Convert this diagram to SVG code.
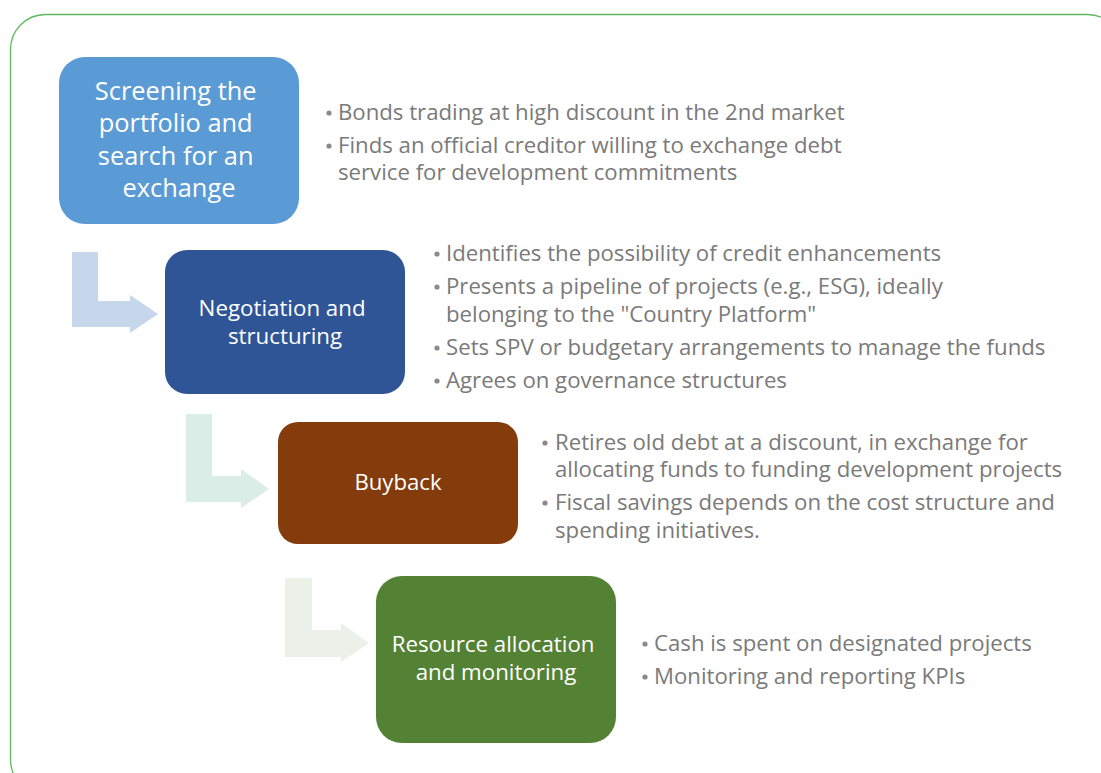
<svg xmlns="http://www.w3.org/2000/svg" width="1101" height="773" viewBox="0 0 1101 773">
  <style>
    text { font-variant-ligatures: none; }
    .box-label { font-family: "Open Sans", "Noto Sans", "Liberation Sans", sans-serif; fill: #ffffff; text-anchor: middle; }
    .bullets { font-family: "Open Sans", "Noto Sans", "Liberation Sans", sans-serif; font-size: 22.2px; fill: #7a7a7a; }
    .dot { fill: #8a8a8a; }
  </style>

  <rect width="1101" height="773" fill="#ffffff"/>

  <!-- outer frame -->
  <rect x="10.5" y="14.5" width="1112" height="780" rx="35" ry="35" fill="none" stroke="#5dba5f" stroke-width="1.3"/>

  <!-- bent arrows between the steps -->
  <g id="connectors">
    <path d="M72,252 L98,252 L98,301 L130,301 L130,295 L158,314 L130,333 L130,327 L72,327 Z" fill="#c6d6eb"/>
    <path d="M186,414 L212,414 L212,476 L241,476 L241,469 L269,489 L241,508 L241,502 L186,502 Z" fill="#daeee7"/>
    <path d="M285,578 L312,578 L312,630 L341,630 L341,623 L369,643 L341,662 L341,657 L285,657 Z" fill="#ebf1e9"/>
  </g>

  <!-- step 1 -->
  <g id="step-screening">
    <rect x="59" y="57" width="240" height="167" rx="26" fill="#5b9bd5"/>
    <text class="box-label" font-size="25.4">
      <tspan x="179" y="100">Screening the</tspan>
      <tspan x="179" y="132">portfolio and</tspan>
      <tspan x="179" y="165">search for an</tspan>
      <tspan x="179" y="197">exchange</tspan>
    </text>
  </g>
  <g id="notes-screening">
    <circle class="dot" cx="329" cy="113" r="2.6"/>
    <text class="bullets" x="338" y="120">Bonds trading at high discount in the 2nd market</text>
    <circle class="dot" cx="329" cy="146" r="2.6"/>
    <text class="bullets" x="338" y="153">Finds an official creditor willing to exchange debt</text>
    <text class="bullets" x="338" y="180">service for development commitments</text>
  </g>

  <!-- step 2 -->
  <g id="step-negotiation">
    <rect x="165" y="250" width="240" height="144" rx="22" fill="#2f5597"/>
    <text class="box-label" font-size="22.3">
      <tspan x="285" y="316">Negotiation and</tspan>
      <tspan x="285" y="344">structuring</tspan>
    </text>
  </g>
  <g id="notes-negotiation">
    <circle class="dot" cx="437" cy="254" r="2.6"/>
    <text class="bullets" x="446" y="261">Identifies the possibility of credit enhancements</text>
    <circle class="dot" cx="437" cy="287" r="2.6"/>
    <text class="bullets" x="446" y="294">Presents a pipeline of projects (e.g., ESG), ideally</text>
    <text class="bullets" x="446" y="322">belonging to the "Country Platform"</text>
    <circle class="dot" cx="437" cy="348" r="2.6"/>
    <text class="bullets" x="446" y="355">Sets SPV or budgetary arrangements to manage the funds</text>
    <circle class="dot" cx="437" cy="381" r="2.6"/>
    <text class="bullets" x="446" y="388">Agrees on governance structures</text>
  </g>

  <!-- step 3 -->
  <g id="step-buyback">
    <rect x="278" y="422" width="240" height="122" rx="20" fill="#843c0c"/>
    <text class="box-label" font-size="22.2" x="398" y="490">Buyback</text>
  </g>
  <g id="notes-buyback">
    <circle class="dot" cx="545" cy="443" r="2.6"/>
    <text class="bullets" x="555" y="450">Retires old debt at a discount, in exchange for</text>
    <text class="bullets" x="555" y="477">allocating funds to funding development projects</text>
    <circle class="dot" cx="545" cy="503" r="2.6"/>
    <text class="bullets" x="555" y="510">Fiscal savings depends on the cost structure and</text>
    <text class="bullets" x="555" y="538">spending initiatives.</text>
  </g>

  <!-- step 4 -->
  <g id="step-allocation">
    <rect x="376" y="576" width="240" height="167" rx="26" fill="#548235"/>
    <text class="box-label" font-size="22.3">
      <tspan x="496" y="652">Resource allocation</tspan>
      <tspan x="496" y="680">and monitoring</tspan>
    </text>
  </g>
  <g id="notes-allocation">
    <circle class="dot" cx="645" cy="644" r="2.6"/>
    <text class="bullets" x="654" y="651">Cash is spent on designated projects</text>
    <circle class="dot" cx="645" cy="677" r="2.6"/>
    <text class="bullets" x="654" y="684">Monitoring and reporting KPIs</text>
  </g>
</svg>
